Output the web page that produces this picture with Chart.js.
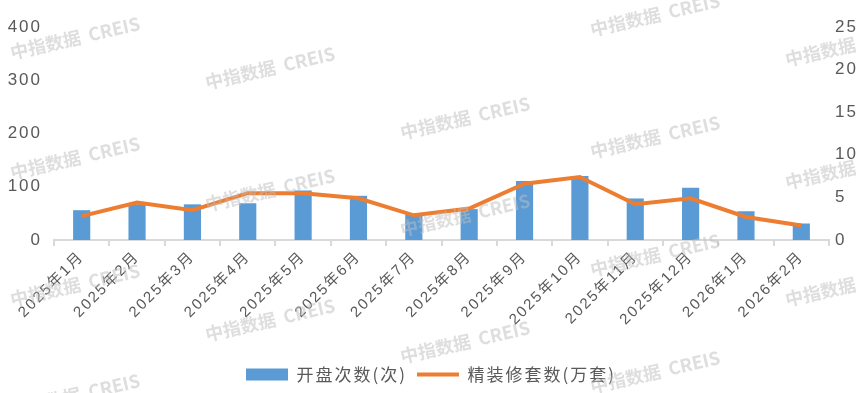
<!DOCTYPE html>
<html>
<head>
<meta charset="utf-8">
<script src="https://cdn.jsdelivr.net/npm/chart.js@4"></script>
<style>
  html, body { margin: 0; padding: 0; background: #fff; }
  #wrap { width: 862px; height: 393px; }
</style>
</head>
<body>
<div id="wrap"><canvas id="chart"></canvas></div>
<script>
const months = ["2025年1月", "2025年2月", "2025年3月", "2025年4月", "2025年5月", "2025年6月", "2025年7月",
  "2025年8月", "2025年9月", "2025年10月", "2025年11月", "2025年12月", "2026年1月", "2026年2月"];
// 开盘次数(次), left axis
const openings = [56, 67, 67, 69, 93, 83, 48, 58, 111, 120, 78, 98, 54, 31];
// 精装修套数(万套), right axis
const units = [2.8, 4.4, 3.5, 5.5, 5.5, 4.9, 2.9, 3.7, 6.6, 7.4, 4.2, 4.9, 2.7, 1.7];
const leftTicks = [0, 100, 200, 300, 400];
const rightTicks = [0, 5, 10, 15, 20, 25];

const textColor = "#595959";
const baseFont = "'Liberation Sans', Arial, 'Noto Sans CJK SC', sans-serif";

// the reference text is set a bit loose, so widen the canvas letter spacing
const spacing = {
  id: "spacing",
  beforeLayout(chart) { chart.ctx.letterSpacing = "2px"; },
  beforeDraw(chart) { chart.ctx.letterSpacing = "2px"; },
};

// faint watermark text drawn over the chart
const marks = [[75, 38], [270, 68], [465, 118], [655, 15], [850, 45],
  [75, 158], [270, 190], [465, 215], [655, 137], [850, 168],
  [75, 285], [270, 320], [465, 342], [655, 255], [850, 285],
  [75, 395], [655, 372]];
const watermark = {
  id: "watermark",
  afterDraw(chart) {
    const ctx = chart.ctx;
    ctx.save();
    ctx.letterSpacing = "0px";
    ctx.fillStyle = "rgba(190,190,190,0.5)";
    ctx.font = "bold 18px 'Noto Sans CJK SC', sans-serif";
    ctx.textAlign = "center";
    ctx.textBaseline = "middle";
    marks.forEach(([x, y]) => {
      ctx.save();
      ctx.translate(x, y);
      ctx.rotate(-13 * Math.PI / 180);
      ctx.fillText("中指数据  CREIS", 0, 0);
      ctx.restore();
    });
    ctx.restore();
  },
};

new Chart(document.getElementById("chart"), {
  type: "bar",
  data: {
    labels: months,
    datasets: [
      {
        type: "line",
        label: "精装修套数(万套)",
        data: units,
        yAxisID: "y1",
        borderColor: "#ED7D31",
        backgroundColor: "#ED7D31",
        borderWidth: 4,
        pointRadius: 0,
        pointStyle: "line",
        tension: 0,
        order: 1,
      },
      {
        label: "开盘次数(次)",
        data: openings,
        yAxisID: "y",
        backgroundColor: "#5B9BD5",
        borderWidth: 0,
        pointStyle: "rect",
        barPercentage: 0.31,
        categoryPercentage: 1,
        order: 2,
      },
    ],
  },
  options: {
    responsive: true,
    maintainAspectRatio: false,
    animation: false,
    layout: { padding: { top: 27, left: 0, right: 0, bottom: 0 } },
    plugins: {
      tooltip: { enabled: false },
      legend: {
        position: "bottom",
        reverse: true,
        labels: {
          usePointStyle: true,
          pointStyleWidth: 42,
          boxHeight: 12,
          padding: 10,
          color: textColor,
          font: { size: 17, family: "'Noto Sans CJK SC', sans-serif" },
        },
      },
    },
    scales: {
      x: {
        grid: {
          display: true,
          drawOnChartArea: false,
          tickLength: 6,
          color: "#d9d9d9",
          lineWidth: 2,
        },
        border: { display: true, color: "#d9d9d9", width: 2 },
        ticks: {
          color: textColor,
          font: { size: 15, family: baseFont },
          minRotation: 45,
          maxRotation: 45,
          autoSkip: false,
          padding: 2,
        },
        afterFit: (s) => { s.height = 116; },
      },
      y: {
        position: "left",
        min: 0,
        max: 400,
        grid: { display: false },
        border: { display: false },
        ticks: {
          color: textColor,
          font: { size: 17, family: baseFont },
          padding: 4,
          stepSize: 100,
          callback: (v) => leftTicks.includes(v) ? v : null,
        },
        afterFit: (s) => { s.width = 54; },
      },
      y1: {
        position: "right",
        min: 0,
        max: 25,
        grid: { display: false },
        border: { display: false },
        ticks: {
          color: textColor,
          font: { size: 17, family: baseFont },
          padding: -2,
          stepSize: 5,
          callback: (v) => rightTicks.includes(v) ? v : null,
        },
        afterFit: (s) => { s.width = 33; },
      },
    },
  },
  plugins: [spacing, watermark],
});
</script>
</body>
</html>
